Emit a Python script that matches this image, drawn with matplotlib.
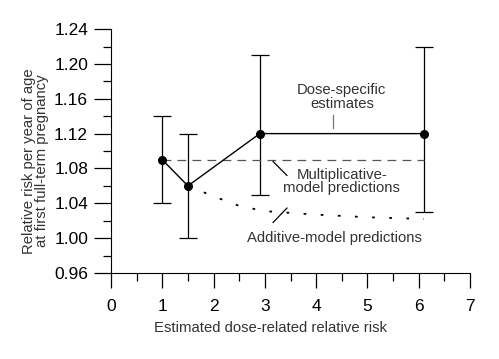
import numpy as np
import matplotlib.pyplot as plt
from matplotlib.ticker import MultipleLocator

plt.rcParams['font.family'] = ['Liberation Sans', 'DejaVu Sans']

# dose-specific estimates
dose = [1.0, 1.5, 2.9, 6.1]
rr = [1.09, 1.06, 1.12, 1.12]
lo = [1.04, 1.00, 1.05, 1.03]
hi = [1.14, 1.12, 1.21, 1.22]

# multiplicative model
mult_x = [1.0, 6.1]
mult_y = [1.09, 1.09]

# additive model
add_x = [1.5, 2.0, 2.5, 3.0, 4.0, 5.0, 6.1]
add_y = [1.06, 1.048, 1.037, 1.031, 1.027, 1.024, 1.022]

fig = plt.figure(figsize=(4.99, 3.59), dpi=100)
ax = fig.add_axes([0.2224, 0.2396, 0.7196, 0.6794])

yerr = [np.array(rr) - np.array(lo), np.array(hi) - np.array(rr)]
ax.errorbar(dose, rr, yerr=yerr, fmt='none', ecolor='black', elinewidth=0.9,
            capsize=6.5, capthick=0.9)
ax.plot(dose, rr, color='black', lw=1.0, marker='o', ms=5.5, zorder=3)
ax.plot(mult_x, mult_y, color='#555555', lw=0.9, ls=(0, (7, 5)))
ax.plot(add_x, add_y, color='black', lw=1.3, ls=(0, (1.5, 8)))

ax.set_xlim(0, 7)
ax.set_ylim(0.96, 1.24)
ax.xaxis.set_major_locator(MultipleLocator(1))
ax.xaxis.set_minor_locator(MultipleLocator(0.5))
ax.yaxis.set_major_locator(MultipleLocator(0.04))
ax.yaxis.set_minor_locator(MultipleLocator(0.02))
ax.yaxis.set_major_formatter(plt.FormatStrFormatter('%.2f'))
ax.spines['top'].set_visible(False)
ax.spines['right'].set_visible(False)
ax.tick_params(which='major', direction='out', length=12, width=0.9, labelsize=12.5)
ax.tick_params(axis='y', which='major', length=12.5, pad=4)
ax.tick_params(axis='x', which='major', length=11, pad=8)
ax.tick_params(which='minor', direction='out', length=6, width=0.9)

fs = 10.7
ax.set_xlabel('Estimated dose-related relative risk', fontsize=fs, color='#333333')
ax.set_ylabel('Relative risk per year of age\nat first full-term pregnancy', fontsize=fs,
              color='#333333', linespacing=0.95)
ax.xaxis.set_label_coords(0.443, -0.195)
ax.yaxis.set_label_coords(-0.172, 0.459)

# annotations
ax.text(4.5, 1.162, 'Dose-specific\nestimates', ha='center', va='center', fontsize=fs,
        color='#333333', linespacing=0.95)
ax.plot([4.33, 4.33], [1.127, 1.141], color='#777777', lw=0.9)
ax.text(4.5, 1.065, 'Multiplicative-\nmodel predictions', ha='center', va='center',
        fontsize=fs, color='#333333', linespacing=0.95)
ax.plot([3.16, 3.43], [1.088, 1.072], color='black', lw=0.9)
ax.text(4.35, 1.0, 'Additive-model predictions', ha='center', va='center',
        fontsize=fs, color='#333333')
ax.plot([3.43, 3.16], [1.0345, 1.018], color='black', lw=0.9)

fig.savefig('out.png', dpi=100)
